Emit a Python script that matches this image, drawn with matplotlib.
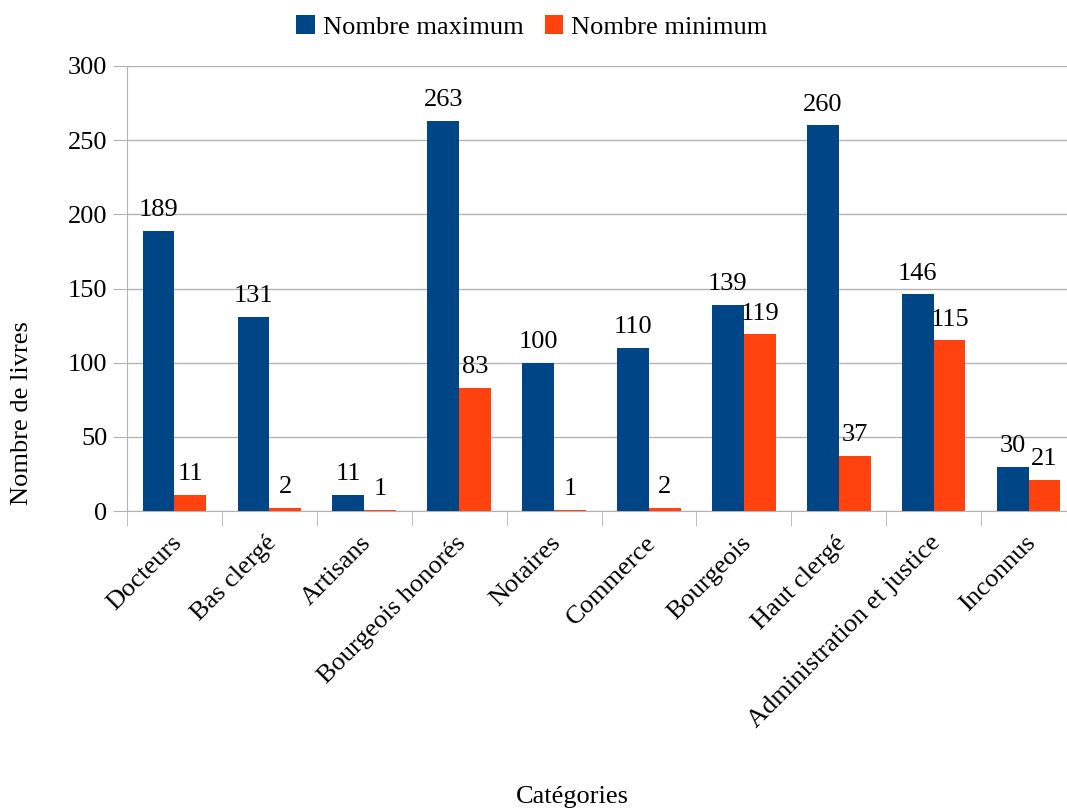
import matplotlib
matplotlib.use("Agg")
import matplotlib.pyplot as plt
import matplotlib.transforms as mtransforms
import numpy as np

categories = ["Docteurs", "Bas clergé", "Artisans", "Bourgeois honorés", "Notaires",
              "Commerce", "Bourgeois", "Haut clergé", "Administration et justice", "Inconnus"]
nb_max = [189, 131, 11, 263, 100, 110, 139, 260, 146, 30]
nb_min = [11, 2, 1, 83, 1, 2, 119, 37, 115, 21]

plt.rcParams['font.family'] = ['Liberation Serif', 'DejaVu Serif']
fs = 19

fig = plt.figure(figsize=(10.67, 8.1), dpi=100)
ax = fig.add_axes([127/1067, 1-511/810, (1076-127)/1067, (511-66)/810])

x = np.arange(len(categories))
w = 0.335
b1 = ax.bar(x - w/2, nb_max, w, color="#004586", label="Nombre maximum", zorder=3)
b2 = ax.bar(x + w/2, nb_min, w, color="#ff420e", label="Nombre minimum", zorder=3)
ax.bar_label(b1, padding=7, fontsize=fs)
ax.bar_label(b2, padding=7, fontsize=fs)

ax.set_xlim(-0.5, len(categories) - 0.5)
ax.set_ylim(0, 300)
ax.set_yticks(range(0, 301, 50))
ax.yaxis.grid(True, color="#b3b3b3", linewidth=1, zorder=0)
for s in ["top", "right"]:
    ax.spines[s].set_visible(False)
ax.spines["left"].set_color("#b3b3b3")
ax.spines["bottom"].set_color("#b3b3b3")
ax.tick_params(axis="y", length=10, color="#b3b3b3", labelsize=fs, pad=4)

ax.set_xticks(x)
ax.set_xticklabels(categories, rotation=45, ha="right", rotation_mode="anchor", fontsize=fs)
ax.tick_params(axis="x", which="major", length=0, pad=15)
shift = mtransforms.ScaledTranslation(-4/100, 0, fig.dpi_scale_trans)
for lbl in ax.get_xticklabels():
    lbl.set_transform(lbl.get_transform() + shift)
ax.set_xticks(np.arange(len(categories) + 1) - 0.5, minor=True)
ax.tick_params(axis="x", which="minor", length=11, color="#b3b3b3")

fig.text(22/1067, 1-413/810, "Nombre de livres", rotation=90, ha="center", va="center", fontsize=fs)
fig.text(572/1067, 1-797/810, "Catégories", ha="center", va="center", fontsize=fs)

fig.legend(loc="center", bbox_to_anchor=(532/1067, 1-27/810), ncol=2, frameon=False,
           fontsize=fs, handlelength=0.7, handleheight=0.7, handletextpad=0.3, columnspacing=0.8)

fig.savefig("out.png", dpi=100)
